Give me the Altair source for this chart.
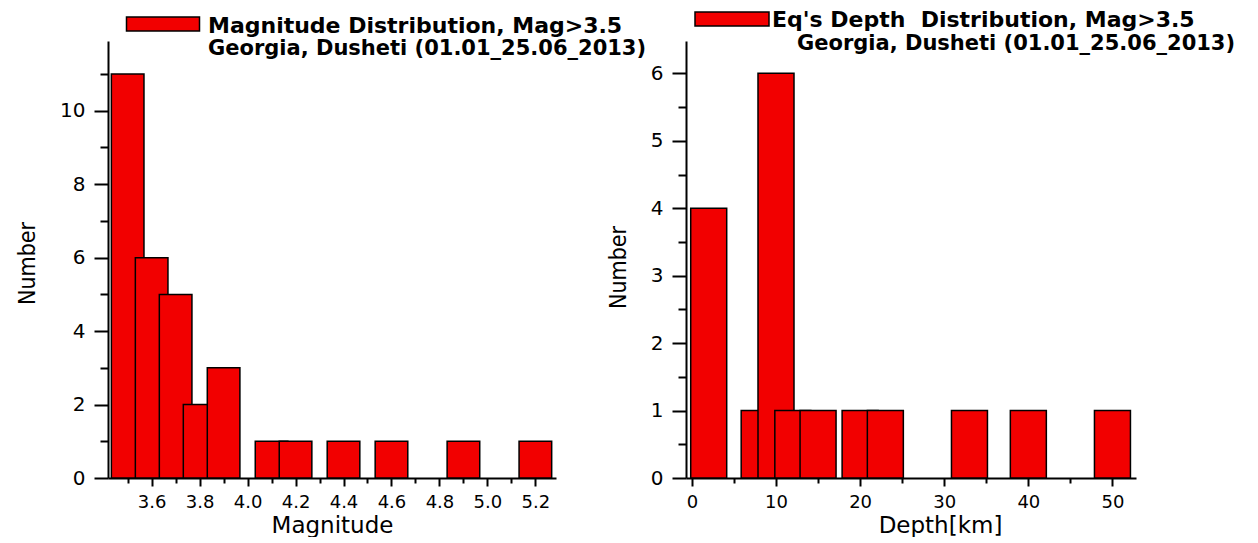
import altair as alt
import pandas as pd

# ---- data ----
mag_centers = [3.5, 3.6, 3.7, 3.8, 3.9, 4.1, 4.2, 4.4, 4.6, 4.9, 5.2]
mag_counts = [11, 6, 5, 2, 3, 1, 1, 1, 1, 1, 1]
depth_centers = [2, 8, 10, 12, 15, 20, 23, 33, 40, 50]
depth_counts = [4, 1, 6, 1, 1, 1, 1, 1, 1, 1]

mag_x_major = [3.6, 3.8, 4.0, 4.2, 4.4, 4.6, 4.8, 5.0, 5.2]
mag_x_minor = [3.5, 3.7, 3.9, 4.1, 4.3, 4.5, 4.7, 4.9, 5.1]
mag_y_major = [0, 2, 4, 6, 8, 10]
mag_y_minor = [1, 3, 5, 7, 9, 11]
depth_x_major = [0, 10, 20, 30, 40, 50]
depth_x_minor = [5, 15, 25, 35, 45]
depth_y_major = [0, 1, 2, 3, 4, 5, 6]
depth_y_minor = [0.5, 1.5, 2.5, 3.5, 4.5, 5.5]

mag_legend = ["Magnitude Distribution, Mag>3.5", "Georgia, Dusheti (01.01_25.06_2013)"]
depth_legend = ["Eq's Depth \u00a0Distribution, Mag>3.5", "Georgia, Dusheti (01.01_25.06_2013)"]

RED = "#f20000"
MAG_BIN = 0.136
DEPTH_BIN = 4.28


def panel(centers, counts, binw, xdom, ydom, xmaj, xmin, ymaj, ymin, xfmt,
          xtitle, width, height, title_x, title_y, legend, box, t1, t2):
    df = pd.DataFrame({"center": centers, "count": counts})
    base = alt.Chart(df).transform_calculate(
        x0=f"datum.center - {binw / 2}",
        x1=f"datum.center + {binw / 2}",
        base="0",
    )
    xs = alt.Scale(domain=xdom, nice=False, zero=False)
    ys = alt.Scale(domain=ydom, nice=False, zero=False)
    bars = base.mark_rect(fill=RED, stroke="black", strokeWidth=1.5).encode(
        x=alt.X("x0:Q", scale=xs, axis=alt.Axis(
            values=xmaj, format=xfmt, tickSize=8, labelPadding=7,
            title=xtitle, titleX=title_x, titlePadding=3, orient="bottom")),
        x2="x1:Q",
        y=alt.Y("count:Q", scale=ys, axis=alt.Axis(
            values=ymaj, format="d", tickSize=14, labelPadding=9,
            title="Number", titleY=title_y, titlePadding=20, orient="left")),
        y2="base:Q",
    )
    minor = base.mark_point(opacity=0).encode(
        x=alt.X("center:Q", scale=xs, axis=alt.Axis(
            values=xmin, tickSize=5, labels=False, domain=False,
            title=None, orient="bottom")),
        y=alt.Y("count:Q", scale=ys, axis=alt.Axis(
            values=ymin, tickSize=8, labels=False, domain=False,
            title=None, orient="left")),
    )
    leg_box = alt.Chart(pd.DataFrame({"k": [1]})).mark_rect(
        fill=RED, stroke="black", strokeWidth=1.5
    ).encode(x=alt.value(box[0]), x2=alt.value(box[1]),
             y=alt.value(box[2]), y2=alt.value(box[3]))
    txt = []
    for line, pos, fs in zip(legend, (t1, t2), (22, 21)):
        txt.append(
            alt.Chart(pd.DataFrame({"label": [line]})).mark_text(
                align="left", baseline="alphabetic", font="DejaVu Sans",
                fontSize=fs, fontWeight="bold", color="black"
            ).encode(x=alt.value(pos[0]), y=alt.value(pos[1]), text="label:N")
        )
    return alt.layer(bars, minor, leg_box, *txt).resolve_axis(
        x="independent", y="independent"
    ).properties(width=width, height=height)


left = panel(mag_centers, mag_counts, MAG_BIN, [3.418, 5.286], [0, 11.9],
             mag_x_major, mag_x_minor, mag_y_major, mag_y_minor, ".1f",
             "Magnitude", 448, 437, 224, 222, mag_legend,
             (18.5, 91.5, -24, -10), (100, -8), (100, 14))
right = panel(depth_centers, depth_counts, DEPTH_BIN, [-0.7, 52.8], [0, 6.48],
              depth_x_major, depth_x_minor, depth_y_major, depth_y_minor, "d",
              "Depth[km]", 450, 437, 254, 226, depth_legend,
              (9, 83, -29, -15), (86, -14.5), (111, 8.5))

chart = alt.hconcat(left, right, spacing=130, bounds="flush").properties(
    padding={"left": 8, "top": 0, "right": 0, "bottom": 0}
).configure_view(stroke=None).configure_axis(
    domainColor="black", domainWidth=2, tickColor="black", tickWidth=2,
    labelFont="DejaVu Sans", labelFontSize=18, labelColor="black",
    titleColor="black", titleFontWeight="normal", grid=False,
).configure_axisX(titleFont="DejaVu Sans", titleFontSize=23).configure_axisY(
    titleFont="Liberation Sans Narrow, DejaVu Sans Condensed, sans-serif",
    titleFontSize=23, labelFontSize=20)

chart.save("out.html", embed_options={"renderer": "svg", "actions": False})
